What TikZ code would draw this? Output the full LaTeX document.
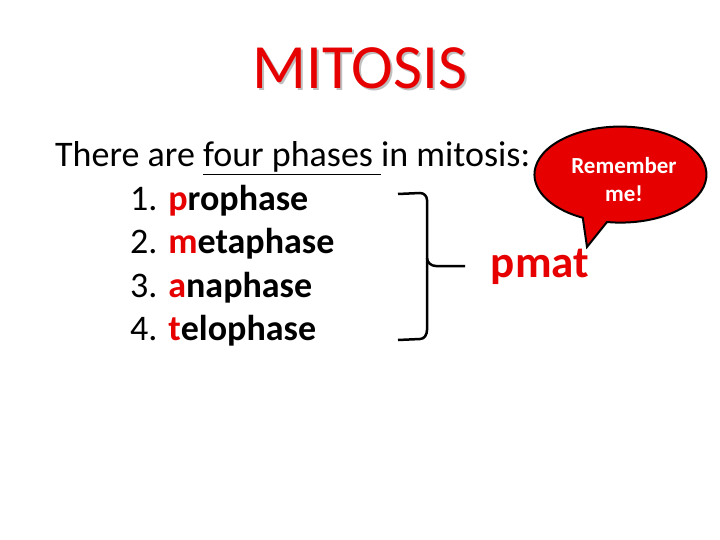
\documentclass[tikz,border=0pt]{standalone}
\usepackage{fontspec}
\setmainfont{Carlito}
\definecolor{myred}{RGB}{230,0,0}
\newcommand{\myul}[1]{\underline{#1}}
\begin{document}
\begin{tikzpicture}[x=1pt,y=-1pt,
  txt/.style={anchor=west,inner sep=0pt,font=\fontsize{36}{36}\selectfont}]
\useasboundingbox (0,0) rectangle (720,540);
\node[text=gray!50,font=\fontsize{63}{63}\selectfont] at (362,70) {MITOSIS};
\node (title) [text=myred,font=\fontsize{63}{63}\selectfont] at (360,68) {MITOSIS};
\node (intro) [txt] at (55,158) {There are \myul{four phases }in mitosis:};
\node (p1) [txt] at (130,201) {1. \textcolor{myred}{\bfseries p}\textbf{rophase}};
\node (p2) [txt] at (130,244) {2. \textcolor{myred}{\bfseries m}\textbf{etaphase}};
\node (p3) [txt] at (130,288) {3. \textcolor{myred}{\bfseries a}\textbf{naphase}};
\node (p4) [txt] at (130,331) {4. \textcolor{myred}{\bfseries t}\textbf{elophase}};
\draw[line width=2.5pt] (398,194) -- (420,193) to[out=0,in=90] (427,200) -- (427,258) to[out=-90,in=180] (436,266) -- (465,266);
\draw[line width=2.5pt] (427,258) -- (427,274) -- (427,330) to[out=-90,in=0] (420,339) -- (398,340);
\node (pmat) [text=myred,font=\bfseries\fontsize{45}{45}\selectfont] at (540,267) {pmat};
\draw[line width=2pt,fill=myred] (607,222)
  arc[start angle=99,end angle=-244,x radius=86,y radius=48] -- (587,247) -- cycle;
\node (bubble) [text=white,font=\bfseries\fontsize{23}{28}\selectfont,align=center] at (624,180) {Remember\\me!};
\end{tikzpicture}
\end{document}
